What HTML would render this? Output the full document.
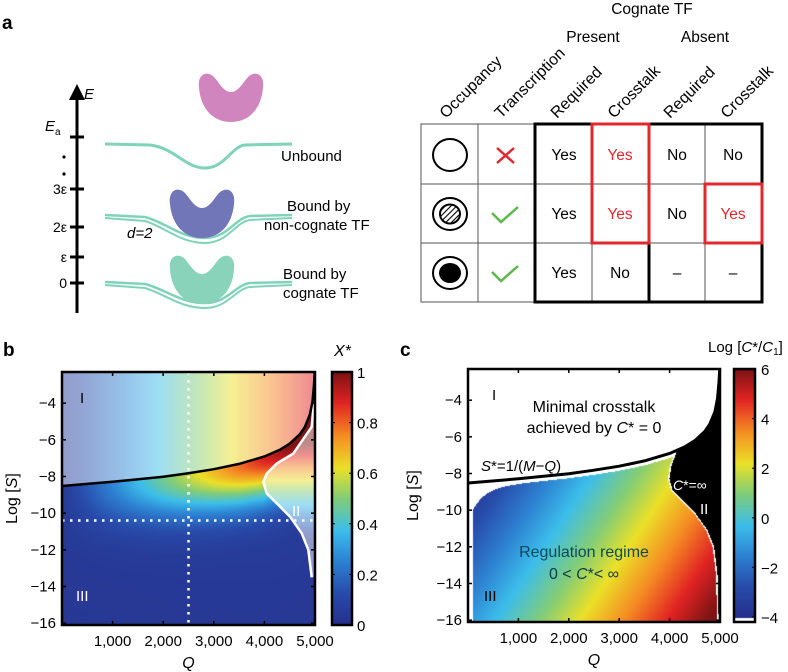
<!DOCTYPE html>
<html><head><meta charset="utf-8">
<style>
html,body{margin:0;padding:0;background:#fff;}
#wrap{position:relative;width:788px;height:672px;overflow:hidden;font-family:"Liberation Sans",Arial,sans-serif;}
svg{position:absolute;left:0;top:0;}
canvas{position:absolute;}
</style></head>
<body>
<div id="wrap">
<canvas id="cb" width="253" height="253" style="left:62px;top:372px"></canvas>
<canvas id="cbb" width="20" height="253" style="left:332px;top:372px"></canvas>
<canvas id="cc" width="252" height="253" style="left:468px;top:369px"></canvas>
<canvas id="cbc" width="21" height="253" style="left:734px;top:369px"></canvas>
<svg id="s" width="788" height="672" viewBox="0 0 788 672" font-family="Liberation Sans, Arial, sans-serif">
<defs>
<pattern id="hatch" width="4" height="4" patternUnits="userSpaceOnUse" patternTransform="rotate(45)"><rect width="4" height="4" fill="#fff"/><line x1="0" y1="0" x2="0" y2="4" stroke="#000" stroke-width="2.2"/></pattern>
</defs>
<text x="2" y="29" font-size="19" font-weight="bold">a</text>
<g>
<line x1="77" y1="98" x2="77" y2="313" stroke="#000" stroke-width="3"/>
<polygon points="69,100 77,84 85,100" fill="#000"/>
<text x="84" y="99" font-size="15" font-style="italic">E</text>
<g stroke="#000" stroke-width="3"><line x1="70" y1="137" x2="84" y2="137"/><line x1="70" y1="189" x2="84" y2="189"/><line x1="70" y1="227" x2="84" y2="227"/><line x1="70" y1="257" x2="84" y2="257"/><line x1="70" y1="283" x2="84" y2="283"/></g>
<text x="45" y="131" font-size="15" font-style="italic">E<tspan font-size="10" font-style="normal" dy="4">a</tspan></text>
<circle cx="64" cy="157" r="1.6"/><circle cx="64" cy="174" r="1.6"/>
<g font-size="14" text-anchor="end"><text x="67" y="194">3ε</text><text x="67" y="232">2ε</text><text x="67" y="262">ε</text><text x="67" y="288">0</text></g>
</g>
<g fill="none" stroke="#7fd3b9" stroke-width="3">
<path d="M105,144 L150,145 C175,148 185,168 205,168 C225,168 232,146 245,145 L292,144"/>
<path d="M105,215 L145,217 C165,222 180,238 205,238 C228,238 235,218 250,216 L292,215" stroke-width="2.5"/>
<path d="M105,218 L145,221 C165,227 180,243 205,243 C228,243 235,222 250,220 L292,218" stroke-width="2"/>
<path d="M105,282 L145,284 C165,289 180,303 205,303 C228,303 235,285 250,283 L292,282" stroke-width="2.5"/>
<path d="M105,285 L145,288 C165,294 180,308 205,308 C228,308 235,289 250,287 L292,285" stroke-width="2"/>
</g>
<g>
<path d="M199,88 C197,74 207,70 214,77 C220,84 224,92 231,92 C238,92 242,84 248,77 C255,70 265,74 263,88 C261,110 248,122 231,122 C214,122 201,110 199,88 Z" fill="#d185be"/>
<path transform="translate(-29,116)" d="M199,88 C197,74 207,70 214,77 C220,84 224,92 231,92 C238,92 242,84 248,77 C255,70 265,74 263,88 C261,110 248,122 231,122 C214,122 201,110 199,88 Z" fill="#7076b8"/>
<path transform="translate(-29,182)" d="M199,88 C197,74 207,70 214,77 C220,84 224,92 231,92 C238,92 242,84 248,77 C255,70 265,74 263,88 C261,110 248,122 231,122 C214,122 201,110 199,88 Z" fill="#88d3b9"/>
</g>
<g font-size="15">
<text x="281" y="161">Unbound</text>
<text x="287" y="211">Bound by</text>
<text x="264" y="230">non-cognate TF</text>
<text x="127" y="238" font-style="italic">d=2</text>
<text x="283" y="279">Bound by</text>
<text x="283" y="298">cognate TF</text>
</g>
<g font-size="15.5">
<text x="652" y="14" text-anchor="middle">Cognate TF</text>
<text x="593" y="42" text-anchor="middle">Present</text>
<text x="705" y="42" text-anchor="middle">Absent</text>
<g font-size="16">
<text transform="translate(446,119) rotate(-45)">Occupancy</text>
<text transform="translate(501,119) rotate(-45)">Transcription</text>
<text transform="translate(557,119) rotate(-45)">Required</text>
<text transform="translate(614,119) rotate(-45)">Crosstalk</text>
<text transform="translate(670,119) rotate(-45)">Required</text>
<text transform="translate(727,119) rotate(-45)">Crosstalk</text>
</g>
<g stroke="#555" stroke-width="1" fill="none">
<rect x="421" y="124" width="341" height="178"/>
<line x1="478" y1="124" x2="478" y2="302"/><line x1="592" y1="124" x2="592" y2="302"/><line x1="705" y1="124" x2="705" y2="302"/>
<line x1="421" y1="184" x2="762" y2="184"/><line x1="421" y1="243" x2="762" y2="243"/>
</g>
<g stroke="#000" stroke-width="3" fill="none"><rect x="535" y="124" width="227" height="178"/><line x1="649" y1="124" x2="649" y2="302"/></g>
<g stroke="#e0282e" stroke-width="3" fill="none"><rect x="592" y="124" width="57" height="119"/><rect x="705" y="184" width="57" height="59"/></g>
<ellipse cx="450" cy="155" rx="17" ry="16" fill="none" stroke="#000" stroke-width="2"/>
<ellipse cx="450" cy="214" rx="17" ry="16" fill="none" stroke="#000" stroke-width="2"/>
<ellipse cx="450" cy="214" rx="10" ry="9.5" fill="url(#hatch)" stroke="#000" stroke-width="2"/>
<ellipse cx="450" cy="273" rx="17" ry="16" fill="none" stroke="#000" stroke-width="2"/>
<ellipse cx="450" cy="273" rx="11" ry="10" fill="#000"/>
<path d="M497,148 L514,163 M514,148 L497,163" stroke="#e0282e" stroke-width="2.5"/>
<path d="M492,213 L501,222 L518,207" stroke="#5cb84a" stroke-width="2.5" fill="none"/>
<path d="M492,272 L501,281 L518,266" stroke="#5cb84a" stroke-width="2.5" fill="none"/>
<g text-anchor="middle">
<text x="564" y="160">Yes</text><text x="620" y="160" fill="#e0282e">Yes</text><text x="677" y="160">No</text><text x="733" y="160">No</text>
<text x="564" y="219">Yes</text><text x="620" y="219" fill="#e0282e">Yes</text><text x="677" y="219">No</text><text x="733" y="219" fill="#e0282e">Yes</text>
<text x="564" y="278">Yes</text><text x="620" y="278">No</text><text x="677" y="278">–</text><text x="733" y="278">–</text>
</g>
</g>
<text x="3" y="356" font-size="19" font-weight="bold">b</text>
<text x="400" y="356" font-size="19" font-weight="bold">c</text>
<g id="gb"></g>
<g id="gc"></g>
</svg>
</div>
<script>
const qTicks = [1000, 2000, 3000, 4000, 5000];
const qTickLabels = ["1,000", "2,000", "3,000", "4,000", "5,000"];
const sTicks = [-4, -6, -8, -10, -12, -14, -16];
const sTickLabels = ["−4", "−6", "−8", "−10", "−12", "−14", "−16"];
const cbTicksB = [0, 0.2, 0.4, 0.6, 0.8, 1];
const cbTickLabelsB = ["0", "0.2", "0.4", "0.6", "0.8", "1"];
const cbTicksC = [-4, -2, 0, 2, 4, 6];
const cbTickLabelsC = ["−4", "−2", "0", "2", "4", "6"];
const boundQ = [0, 1000, 2000, 2500, 3000, 3500, 4000, 4300, 4500, 4700, 4800, 4900, 4950, 4980, 4995];
const boundS = [-8.52, -8.29, -8.01, -7.82, -7.60, -7.31, -6.91, -6.55, -6.21, -5.70, -5.30, -4.61, -3.91, -3.0, -2.3];
const edgeS = [-3.0, -4.2, -5.29, -6.75, -7.29, -7.84, -8.29, -8.93, -9.47, -10.2, -11.1, -12.0, -13.5];
const edgeQ = [4995, 4970, 4935, 4572, 4245, 4047, 3980, 4047, 4245, 4507, 4738, 4868, 4935];
const edgeSc = [-3.0, -5.0, -6.2, -7.0, -7.6, -8.29, -8.93, -9.47, -10.2, -11.1, -12.0, -13.5, -16.2];
const edgeQc = [4600, 4350, 4200, 4100, 4020, 3980, 4047, 4245, 4507, 4738, 4868, 4935, 4960];
const dotQ = 2500, dotS = -10.4;

const NS = "http://www.w3.org/2000/svg";
function mk(tag, attrs, parent, txt) { const e = document.createElementNS(NS, tag); for (const k in attrs) e.setAttribute(k, attrs[k]); if (txt !== undefined) e.textContent = txt; parent.appendChild(e); return e; }
function interp(xs, ys, x) { if (x <= xs[0]) return ys[0]; for (let i = 1; i < xs.length; i++) if (x <= xs[i]) { const t = (x - xs[i-1]) / (xs[i] - xs[i-1]); return ys[i-1] + t * (ys[i] - ys[i-1]); } return ys[ys.length-1]; }
function interpDesc(xs, ys, x) { return interp(xs.slice().reverse(), ys.slice().reverse(), x); }
function cl(v) { return Math.max(0, Math.min(1, v)); }
const palPos = [0, 0.12, 0.25, 0.37, 0.5, 0.62, 0.75, 0.88, 1];
const palCol = [[38,48,140],[40,75,170],[45,130,210],[60,190,235],[130,205,120],[235,225,40],[245,140,35],[225,35,35],[125,20,20]];
function jet(v) { v = cl(v); let i = 1; while (i < palPos.length - 1 && v > palPos[i]) i++; const t = (v - palPos[i-1]) / (palPos[i] - palPos[i-1]); return [0,1,2].map(k => palCol[i-1][k] + t * (palCol[i][k] - palCol[i-1][k])); }
function wash(c, f) { return c.map(x => x + (255 - x) * f); }

function makePlot(x0, y0, w, h, sMin, sMax) {
  return { xs: q => x0 + q / 5000 * w, ys: s => y0 + (sMax - s) / (sMax - sMin) * h };
}
const B = makePlot(62, 372, 253, 253, -16.1, -2.3);
const C = makePlot(468, 369, 252, 253, -16.1, -2.3);

function axes(g, P, x0, y0, w, h, yLabX) {
  mk("rect", {x: x0, y: y0, width: w, height: h, fill: "none", stroke: "#000", "stroke-width": 2.5}, g);
  qTicks.forEach((q, i) => {
    const x = P.xs(q);
    const t = mk("line", {x1: x, y1: y0 + h, x2: x, y2: y0 + h - 4, stroke: "#000", "stroke-width": 1.5}, g);
    
    mk("line", {x1: x, y1: y0, x2: x, y2: y0 + 4, stroke: "#000", "stroke-width": 1.5}, g);
    const l = mk("text", {x: x, y: y0 + h + 21, "font-size": 15, "text-anchor": "middle"}, g, qTickLabels[i]);
    
    
  });
  sTicks.forEach((s, i) => {
    const y = P.ys(s);
    mk("line", {x1: x0, y1: y, x2: x0 + 4, y2: y, stroke: "#000", "stroke-width": 1.5}, g);
    mk("line", {x1: x0 + w, y1: y, x2: x0 + w - 4, y2: y, stroke: "#000", "stroke-width": 1.5}, g);
    const l = mk("text", {x: x0 - 6, y: y + 5, "font-size": 15, "text-anchor": "end"}, g, sTickLabels[i]);
    
    
  });
  const xt = mk("text", {x: x0 + w / 2, y: y0 + h + 43, "font-size": 16, "font-style": "italic", "text-anchor": "middle"}, g, "Q");
  
  
  const yt = mk("text", {transform: `translate(${yLabX},${y0 + h / 2}) rotate(-90)`, "font-size": 16, "text-anchor": "middle"}, g);
  
  
  mk("tspan", {}, yt, "Log [");
  mk("tspan", {"font-style": "italic"}, yt, "S");
  mk("tspan", {}, yt, "]");
}
function curvePath(P, qs, ss) { return qs.map((q, i) => (i ? "L" : "M") + P.xs(q).toFixed(1) + "," + P.ys(ss[i]).toFixed(1)).join(" "); }

(function () {
  const cv = document.getElementById("cb"), ctx = cv.getContext("2d");
  const img = ctx.createImageData(253, 253);
  for (let py = 0; py < 253; py++) for (let px = 0; px < 253; px++) {
    const q = (px + 0.5) / 253 * 5000, s = -2.3 - (py + 0.5) / 253 * 13.8;
    const sb = interp(boundQ, boundS, q);
    let c;
    if (s > sb) c = wash(jet(0.05 + 0.85 * q / 5000), 0.5);
    else if (s <= edgeS[0] && s >= edgeS[edgeS.length-1] && q > interpDesc(edgeS, edgeQ, s)) c = wash(jet(0.85 - (-7 - s) * 0.19), 0.5);
    else { const d = sb - s; c = jet(0.03 + (q / 5000) * Math.exp(-(d / 2.3) * (d / 2.3)) + 0.06 * Math.exp(-d / 4) * (q / 5000 + 0.3)); }
    const k = (py * 253 + px) * 4; img.data[k] = c[0]; img.data[k+1] = c[1]; img.data[k+2] = c[2]; img.data[k+3] = 255;
  }
  ctx.putImageData(img, 0, 0);
  const cb = document.getElementById("cbb").getContext("2d");
  for (let y = 0; y < 253; y++) { const c = jet(1 - y / 252); cb.fillStyle = `rgb(${c[0]|0},${c[1]|0},${c[2]|0})`; cb.fillRect(0, y, 20, 1); }
})();
(function () {
  const cv = document.getElementById("cc"), ctx = cv.getContext("2d");
  const img = ctx.createImageData(252, 253);
  for (let py = 0; py < 253; py++) for (let px = 0; px < 252; px++) {
    const q = (px + 0.5) / 252 * 5000, s = -2.3 - (py + 0.5) / 253 * 13.8;
    const sb = interp(boundQ, boundS, q);
    let c;
    if (s > sb) c = [255, 255, 255];
    else if (q > interpDesc(edgeSc, edgeQc, s) - 15) c = (q > interpDesc(edgeSc, edgeQc, s) + 15) ? [0, 0, 0] : [255,255,255];
    else {
      const top = sb - 0.25 - 1.8 * Math.exp(-q / 260);
      if (s > top || q < 90) c = [255, 255, 255];
      else { const v = -6.9 + 1.5 * q / 1000 + 0.36 * (-s); c = jet((v + 4) / 10); }
    }
    const k = (py * 252 + px) * 4; img.data[k] = c[0]; img.data[k+1] = c[1]; img.data[k+2] = c[2]; img.data[k+3] = 255;
  }
  ctx.putImageData(img, 0, 0);
  const cb = document.getElementById("cbc").getContext("2d");
  for (let y = 0; y < 253; y++) { const c = y > 248 ? [255,255,255] : jet(1 - y / 248); cb.fillStyle = `rgb(${c[0]|0},${c[1]|0},${c[2]|0})`; cb.fillRect(0, y, 21, 1); }
})();

const gb = document.getElementById("gb");


const ew = mk("path", {d: curvePath(B, edgeQ, edgeS), fill: "none", stroke: "#fff", "stroke-width": 2.5}, gb);

const bk = mk("path", {d: curvePath(B, boundQ, boundS), fill: "none", stroke: "#000", "stroke-width": 2.5}, gb);

const dv = mk("line", {x1: B.xs(dotQ), y1: 372, x2: B.xs(dotQ), y2: 625, stroke: "#fff", "stroke-width": 2.5, "stroke-dasharray": "2.5,5.5"}, gb);

const dh = mk("line", {x1: 62, y1: B.ys(dotS), x2: 315, y2: B.ys(dotS), stroke: "#fff", "stroke-width": 2.5, "stroke-dasharray": "2.5,5.5"}, gb);

axes(gb, B, 62, 372, 253, 253, 17);
mk("text", {x: 80, y: 403, "font-size": 15}, gb, "I");
mk("text", {x: 292, y: 516, "font-size": 15, fill: "#fff"}, gb, "II");
mk("text", {x: 76, y: 601, "font-size": 15, fill: "#fff"}, gb, "III");
mk("rect", {x: 332, y: 372, width: 20, height: 253, fill: "none", stroke: "#000", "stroke-width": 2.5}, gb);
cbTicksB.forEach((v, i) => {
  const y = 625 - v * 253;
  mk("line", {x1: 332, y1: y, x2: 335, y2: y, stroke: "#000"}, gb);
  mk("line", {x1: 349, y1: y, x2: 352, y2: y, stroke: "#000"}, gb);
  const l = mk("text", {x: 357, y: y + 6, "font-size": 15}, gb, cbTickLabelsB[i]);
  
  
});
mk("text", {x: 334, y: 356, "font-size": 16, "font-style": "italic"}, gb, "X*");

const gc = document.getElementById("gc");


const bkc = mk("path", {d: curvePath(C, boundQ, boundS), fill: "none", stroke: "#000", "stroke-width": 3}, gc);

axes(gc, C, 468, 369, 252, 253, 418);
mk("text", {x: 492, y: 400, "font-size": 15}, gc, "I");
mk("text", {x: 594, y: 412, "font-size": 16, "text-anchor": "middle"}, gc, "Minimal crosstalk");
const t2 = mk("text", {x: 594, y: 433, "font-size": 16, "text-anchor": "middle"}, gc);
mk("tspan", {}, t2, "achieved by "); mk("tspan", {"font-style": "italic"}, t2, "C"); mk("tspan", {}, t2, "* = 0");
const t3 = mk("text", {x: 481, y: 471, "font-size": 15}, gc);
mk("tspan", {"font-style": "italic"}, t3, "S"); mk("tspan", {}, t3, "*=1/("); mk("tspan", {"font-style": "italic"}, t3, "M"); mk("tspan", {}, t3, "−"); mk("tspan", {"font-style": "italic"}, t3, "Q"); mk("tspan", {}, t3, ")");
const t4 = mk("text", {x: 673, y: 490, "font-size": 14, fill: "#fff"}, gc);
mk("tspan", {"font-style": "italic"}, t4, "C"); mk("tspan", {}, t4, "*=∞");
mk("text", {x: 700, y: 514, "font-size": 15, fill: "#fff"}, gc, "II");
mk("text", {x: 584, y: 557, "font-size": 16, "text-anchor": "middle", fill: "#0d4a5a"}, gc, "Regulation regime");
const t5 = mk("text", {x: 584, y: 579, "font-size": 16, "text-anchor": "middle", fill: "#0d3a4a"}, gc);
mk("tspan", {}, t5, "0 < "); mk("tspan", {"font-style": "italic"}, t5, "C"); mk("tspan", {}, t5, "*< ∞");
mk("text", {x: 484, y: 601, "font-size": 15}, gc, "III");
mk("rect", {x: 734, y: 369, width: 21, height: 253, fill: "none", stroke: "#000", "stroke-width": 2.5}, gc);
cbTicksC.forEach((v, i) => {
  const y = 617 - (v + 4) / 10 * 248;
  mk("line", {x1: 752, y1: y, x2: 755, y2: y, stroke: "#000"}, gc);
  const l = mk("text", {x: 761, y: y + 6, "font-size": 15}, gc, cbTickLabelsC[i]);
  
  
});
const t6 = mk("text", {x: 708, y: 352, "font-size": 15}, gc);
mk("tspan", {}, t6, "Log ["); mk("tspan", {"font-style": "italic"}, t6, "C"); mk("tspan", {}, t6, "*/"); mk("tspan", {"font-style": "italic"}, t6, "C");
mk("tspan", {"font-size": 10, dy: 3}, t6, "1"); mk("tspan", {dy: -3}, t6, "]");
</script>
</body></html>
